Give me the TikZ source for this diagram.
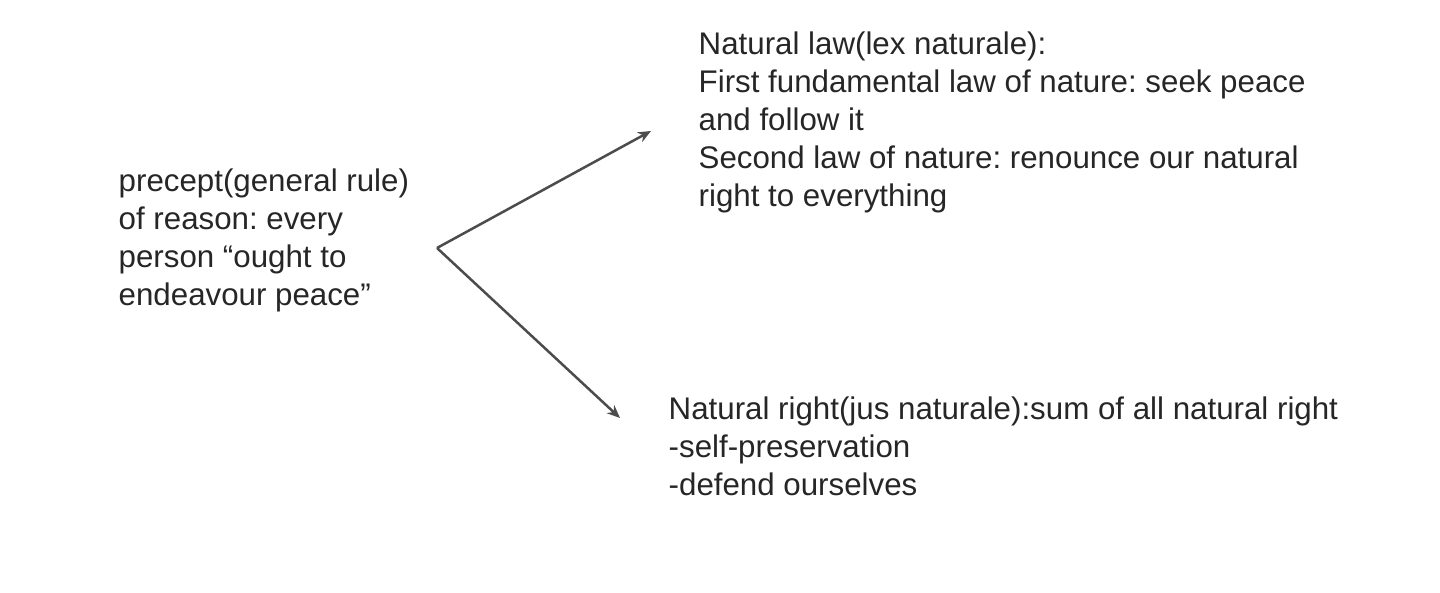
\documentclass[tikz,border=0pt]{standalone}
\usepackage{fontspec}
\setmainfont{Liberation Sans}
\usetikzlibrary{arrows.meta,positioning}
\frenchspacing
\tikzset{
  txt/.style={anchor=north west, align=left, inner sep=0pt, font=\fontsize{8.9}{10.8}\selectfont, text=black!85},
  arr/.style={-{Stealth[length=1.3mm, width=1.1mm]}, line width=0.25mm, draw=black!70},
}

\begin{document}
\begin{tikzpicture}
\useasboundingbox (0,0) rectangle (14.4,-5.93);
\node[txt] (precept) at (1.18,-1.68) {precept(general rule)\\of reason: every\\person ``ought to\\endeavour peace''};
\node[txt] (law) at (6.98,-0.31) {Natural law(lex naturale):\\First fundamental law of nature: seek peace\\and follow it\\Second law of nature: renounce our natural\\right to everything};
\node[txt] (right) at (6.68,-3.96) {Natural right(jus naturale):sum of all natural right\\-self-preservation\\-defend ourselves};
\coordinate (fork) at (4.37,-2.48);
\coordinate (lawtip) at (6.51,-1.31);
\coordinate (righttip) at (6.20,-4.18);
\draw[arr] (fork) -- (lawtip);
\draw[arr] (fork) -- (righttip);
\end{tikzpicture}
\end{document}
